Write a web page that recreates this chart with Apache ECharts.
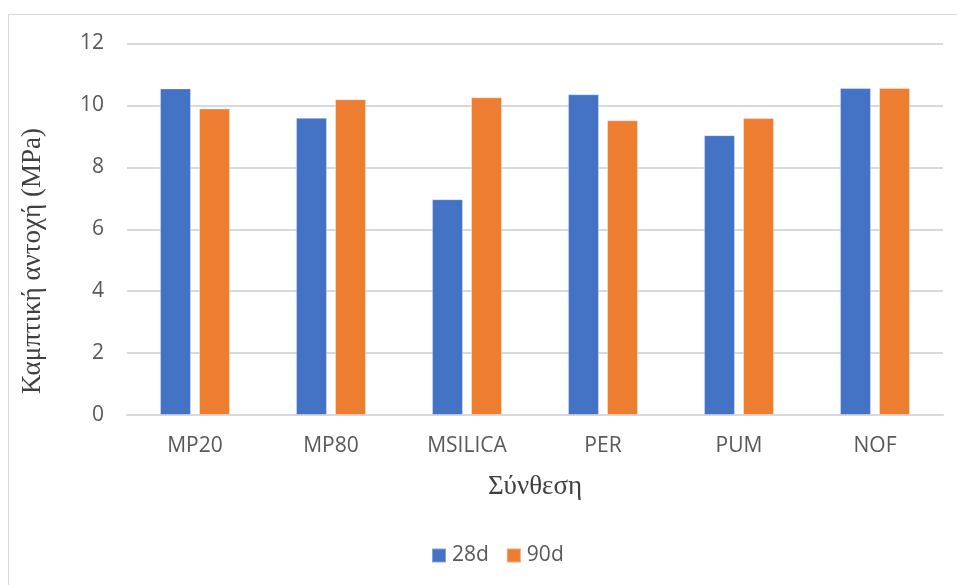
<!DOCTYPE html>
<html>
<head>
<meta charset="utf-8">
<script src="https://cdn.jsdelivr.net/npm/echarts@6/dist/echarts.min.js"></script>
<style>
  html, body { margin: 0; padding: 0; background: #ffffff; }
  #chart { width: 957px; height: 585px; }
</style>
</head>
<body>
<div id="chart"></div>
<script>
// Flexural strength per mix, at 28 and 90 days
const categories = ['MP20', 'MP80', 'MSILICA', 'PER', 'PUM', 'NOF'];
const strength28d = [10.55, 9.60, 6.97, 10.36, 9.04, 10.56];
const strength90d = [9.90, 10.20, 10.26, 9.52, 9.59, 10.56];
const seriesNames = ['28d', '90d'];
const yAxisTitle = 'Καμπτική αντοχή (MPa)';
const xAxisTitle = 'Σύνθεση';

const chart = echarts.init(document.getElementById('chart'));

const labelFont = '"Open Sans", "Noto Sans", sans-serif';
const titleFont = '"Liberation Serif", "DejaVu Serif", serif';

chart.setOption({
  animation: false,
  backgroundColor: '#ffffff',
  color: ['#4472C4', '#ED7D31'],
  grid: { left: 127, right: 14, top: 43.5, bottom: 170, containLabel: false },
  legend: {
    data: seriesNames,
    bottom: 14,
    left: 426,
    itemWidth: 14,
    itemHeight: 14,
    itemGap: 17,
    icon: 'rect',
    textStyle: { color: '#595959', fontSize: 21, fontFamily: labelFont, padding: [0, 0, 0, 1] }
  },
  xAxis: {
    type: 'category',
    data: categories,
    axisLine: { show: true, lineStyle: { color: '#d9d9d9', width: 2 } },
    axisTick: { show: false },
    axisLabel: { color: '#595959', fontSize: 21, fontFamily: labelFont, margin: 21 },
    name: xAxisTitle,
    nameLocation: 'middle',
    nameGap: 58,
    nameTextStyle: { color: '#404040', fontSize: 27, fontFamily: titleFont }
  },
  yAxis: {
    type: 'value',
    min: 0,
    max: 12,
    interval: 2,
    axisLine: { show: false },
    axisTick: { show: false },
    splitLine: { lineStyle: { color: '#d9d9d9', width: 2 } },
    axisLabel: { color: '#595959', fontSize: 21, fontFamily: labelFont, margin: 23 }
  },
  graphic: [
    {
      type: 'rect',
      shape: { x: 8.5, y: 14.5, width: 1000, height: 700 },
      style: { fill: 'none', stroke: '#d9d9d9', lineWidth: 1 },
      silent: true
    },
    {
      type: 'text',
      x: 33,
      y: 261,
      rotation: Math.PI / 2,
      style: {
        text: yAxisTitle,
        fill: '#404040',
        font: '27px ' + titleFont,
        textAlign: 'center',
        textVerticalAlign: 'middle'
      }
    }
  ],
  series: [
    {
      name: seriesNames[0],
      type: 'bar',
      data: strength28d,
      barWidth: 31,
      barGap: '26%',
      itemStyle: { borderColor: 'rgba(255,255,255,0.35)', borderWidth: 1 }
    },
    {
      name: seriesNames[1],
      type: 'bar',
      data: strength90d,
      barWidth: 31,
      barGap: '26%',
      itemStyle: { borderColor: 'rgba(255,255,255,0.35)', borderWidth: 1 }
    }
  ]
});
</script>
</body>
</html>
